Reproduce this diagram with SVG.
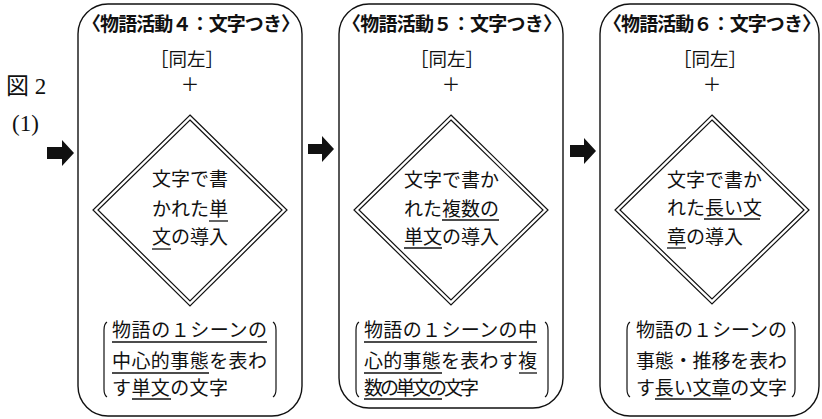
<svg xmlns="http://www.w3.org/2000/svg" width="822" height="419" viewBox="0 0 822 419">
<style>
.box{fill:none;stroke:#111;stroke-width:1.4}
.dia{fill:none;stroke:#111;stroke-width:1.2}
.br{fill:none;stroke:#111;stroke-width:1.2}
.ul{stroke:#111;stroke-width:1.3}
.t{font-family:"Noto Sans CJK JP","Noto Sans",sans-serif;font-size:19px;fill:#111}
.ttl{font-family:"Noto Sans CJK JP","Noto Sans",sans-serif;font-size:19px;font-weight:bold;fill:#111}
.s{font-family:"Noto Sans CJK JP","Noto Sans",sans-serif;font-size:18.5px;fill:#111;text-anchor:middle}
.lbl{font-family:"Liberation Serif","Noto Sans CJK JP",serif;font-size:23px;fill:#111}
.arr{fill:#111}
</style>
<g id="label">
<text class="lbl" x="6" y="94">図 2</text>
<text class="lbl" x="12" y="131">(1)</text>
</g>
<g id="connectors">
<path class="arr" d="M47,147 H62 V140 L74,153 L62,166 V159 H47 Z"/>
<path class="arr" d="M308,144 H322 V136 L334,149 L322,162 V154 H308 Z"/>
<path class="arr" d="M570,145 H584 V138 L596,151 L584,164 V157 H570 Z"/>
</g>
<g id="node1">
<rect class="box" x="78" y="4" width="224" height="412" rx="30" ry="30"/>
<text class="ttl" x="82" y="31" textLength="218" lengthAdjust="spacing">〈物語活動４：文字つき〉</text>
<text class="s" x="187" y="66">［同左］</text>
<text class="s" x="190" y="91">＋</text>
<path class="dia" d="M190,115 L287,210 L190,306 L93,210 Z"/>
<path class="dia" d="M190,120 L282,210 L190,301 L98,210 Z"/>
<text class="t" x="152" y="186">文字で書</text>
<text class="t" x="152" y="216">かれた単</text>
<text class="t" x="152" y="244">文の導入</text>
<line class="ul" x1="209" y1="221" x2="228" y2="221"/>
<line class="ul" x1="152" y1="249" x2="171" y2="249"/>
<path class="br" d="M107,322 Q104,324 104,330 V389 Q104,395 107,397"/>
<path class="br" d="M273,322 Q276,324 276,330 V389 Q276,395 273,397"/>
<text class="t" x="112" y="337" textLength="155">物語の１シーンの</text>
<text class="t" x="112" y="368" textLength="155">中心的事態を表わ</text>
<text class="t" x="112" y="395" textLength="116">す単文の文字</text>
<line class="ul" x1="112" y1="342" x2="267" y2="342"/>
<line class="ul" x1="112" y1="373" x2="209" y2="373"/>
<line class="ul" x1="132" y1="399" x2="171" y2="399"/>
</g>
<g id="node2">
<rect class="box" x="339" y="4" width="224" height="404" rx="30" ry="30"/>
<text class="ttl" x="342" y="31" textLength="220" lengthAdjust="spacing">〈物語活動５：文字つき〉</text>
<text class="s" x="447" y="66">［同左］</text>
<text class="s" x="451" y="91">＋</text>
<path class="dia" d="M451,115 L548,210 L451,305 L354,210 Z"/>
<path class="dia" d="M451,120 L543,210 L451,300 L359,210 Z"/>
<text class="t" x="404" y="187">文字で書か</text>
<text class="t" x="404" y="216">れた複数の</text>
<text class="t" x="404" y="244">単文の導入</text>
<line class="ul" x1="442" y1="220" x2="499" y2="220"/>
<line class="ul" x1="404" y1="248" x2="442" y2="248"/>
<path class="br" d="M359,322 Q356,324 356,330 V389 Q356,395 359,397"/>
<path class="br" d="M545,322 Q548,324 548,330 V389 Q548,395 545,397"/>
<text class="t" x="364" y="337" textLength="173">物語の１シーンの中</text>
<text class="t" x="364" y="368" textLength="173">心的事態を表わす複</text>
<text class="t" x="364" y="395" textLength="115">数の単文の文字</text>
<line class="ul" x1="364" y1="342" x2="537" y2="342"/>
<line class="ul" x1="364" y1="373" x2="442" y2="373"/>
<line class="ul" x1="519" y1="373" x2="537" y2="373"/>
<line class="ul" x1="364" y1="399" x2="442" y2="399"/>
</g>
<g id="node3">
<rect class="box" x="600" y="4" width="219" height="412" rx="30" ry="30"/>
<text class="ttl" x="603" y="31" textLength="218" lengthAdjust="spacing">〈物語活動６：文字つき〉</text>
<text class="s" x="710" y="66">［同左］</text>
<text class="s" x="712" y="91">＋</text>
<path class="dia" d="M712,115 L809,210 L712,304 L615,210 Z"/>
<path class="dia" d="M712,120 L804,210 L712,299 L620,210 Z"/>
<text class="t" x="667" y="187">文字で書か</text>
<text class="t" x="667" y="215">れた長い文</text>
<text class="t" x="667" y="244">章の導入</text>
<line class="ul" x1="704" y1="219" x2="760" y2="219"/>
<line class="ul" x1="667" y1="248" x2="686" y2="248"/>
<path class="br" d="M630,322 Q627,324 627,330 V389 Q627,395 630,397"/>
<path class="br" d="M792,322 Q795,324 795,330 V389 Q795,395 792,397"/>
<text class="t" x="636" y="337" textLength="151">物語の１シーンの</text>
<text class="t" x="636" y="368" textLength="151">事態・推移を表わ</text>
<text class="t" x="636" y="395" textLength="151">す長い文章の文字</text>
<line class="ul" x1="655" y1="399" x2="731" y2="399"/>
</g>
</svg>
